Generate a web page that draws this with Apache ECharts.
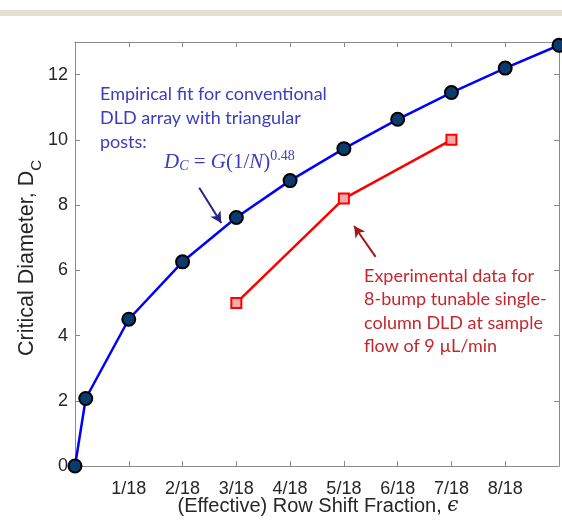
<!DOCTYPE html>
<html>
<head>
<meta charset="utf-8">
<script src="https://cdn.jsdelivr.net/npm/echarts@6/dist/echarts.min.js"></script>
<style>
  html, body { margin: 0; padding: 0; background: #fff; }
  #chart { width: 562px; height: 523px; }
</style>
</head>
<body>
<div id="chart"></div>
<script>
// Row shift fraction in units of 1/18
const fitX = [0, 0.2, 1, 2, 3, 4, 5, 6, 7, 8, 9];
// Empirical fit D_C = G (1/N)^0.48
const fitD = [0, 2.07, 4.5, 6.26, 7.62, 8.75, 9.73, 10.63, 11.45, 12.2, 12.9];
// Measured critical diameter, 8-bump tunable single-column DLD
const expX = [3, 5, 7];
const expD = [5.0, 8.2, 10.0];
// Axis ticks
const xTickLabels = ['1/18', '2/18', '3/18', '4/18', '5/18', '6/18', '7/18', '8/18'];
const yTicks = [0, 2, 4, 6, 8, 10, 12];

const chart = echarts.init(document.getElementById('chart'), null, { renderer: 'canvas' });

function axisLine() { return { show: true, onZero: false, lineStyle: { color: '#8a8a8a', width: 1 } }; }
function axisTick() { return { show: true, inside: true, length: 5, lineStyle: { color: '#8a8a8a', width: 1 } }; }

function pairs(xs, ys) { return xs.map((x, i) => [x, ys[i]]); }

const mathColor = '#3c3cc0';
const mathFont = '"Liberation Serif", "DejaVu Serif", serif';

const option = {
  animation: false,
  backgroundColor: '#ffffff',
  grid: { left: 75, right: 1, top: 42, bottom: 57, containLabel: false },
  xAxis: [
    {
      type: 'value', min: 0, max: 9, interval: 1, position: 'bottom',
      axisLine: axisLine(),
      axisTick: axisTick(),
      axisLabel: {
        margin: 14,
        fontFamily: 'Liberation Sans', fontSize: 18, color: '#262626',
        formatter: v => (v >= 1 && v <= 8) ? xTickLabels[v - 1] : ''
      },
      splitLine: { show: false }
    },
    {
      type: 'value', min: 0, max: 9, interval: 1, position: 'top',
      axisLine: axisLine(),
      axisTick: axisTick(),
      axisLabel: { show: false },
      splitLine: { show: false }
    }
  ],
  yAxis: [
    {
      type: 'value', min: 0, max: 13, interval: 2, position: 'left',
      axisLine: axisLine(),
      axisTick: axisTick(),
      axisLabel: {
        margin: 7,
        fontFamily: 'Liberation Sans', fontSize: 18, color: '#262626',
        formatter: v => yTicks.indexOf(v) >= 0 ? String(v) : ''
      },
      splitLine: { show: false }
    },
    {
      type: 'value', min: 0, max: 13, interval: 2, position: 'right',
      axisLine: axisLine(),
      axisTick: axisTick(),
      axisLabel: { show: false },
      splitLine: { show: false }
    }
  ],
  series: [
    {
      name: 'Empirical fit',
      type: 'line',
      data: pairs(fitX, fitD),
      clip: false,
      z: 3,
      lineStyle: { color: '#0000ff', width: 2.5 },
      symbol: 'circle',
      symbolSize: 13,
      itemStyle: { color: '#0b3b6e', borderColor: '#000000', borderWidth: 2 }
    },
    {
      name: 'Experimental',
      type: 'line',
      data: pairs(expX, expD),
      z: 3,
      lineStyle: { color: '#ff0000', width: 2.5 },
      symbol: 'rect',
      symbolSize: 10,
      itemStyle: { color: '#f6a9a9', borderColor: '#ff0000', borderWidth: 2 },
      markLine: {
        silent: true,
        symbol: ['none', 'arrow'],
        symbolSize: [9, 11],
        label: { show: false },
        data: [
          [
            { coord: [2.31, 8.53], lineStyle: { color: '#24248a', width: 2, type: 'solid' } },
            { coord: [2.72, 7.45] }
          ],
          [
            { coord: [5.59, 6.41], lineStyle: { color: '#a01818', width: 2, type: 'solid' } },
            { coord: [5.19, 7.36] }
          ]
        ]
      }
    }
  ],
  graphic: [
    { type: 'rect', shape: { x: 0, y: 10, width: 562, height: 6 }, style: { fill: '#e4e1d3' }, silent: true },
    {
      type: 'text', left: 100, top: 82,
      style: {
        text: 'Empirical fit for conventional\nDLD array with triangular\nposts:',
        font: '18px Lato, "Open Sans", sans-serif', fill: '#3c3cc0', lineHeight: 24
      }
    },
    {
      type: 'text', left: 164, top: 149,
      style: {
        text: '{i|D}{s|C}{n| = }{i|G}{n|(1/}{i|N}{n|)}{p|0.48}',
        fill: mathColor,
        rich: {
          i: { font: 'italic 21px ' + mathFont, fill: mathColor, verticalAlign: 'bottom', lineHeight: 24 },
          n: { font: '21px ' + mathFont, fill: mathColor, verticalAlign: 'bottom', lineHeight: 24 },
          s: { font: 'italic 14px ' + mathFont, fill: mathColor, verticalAlign: 'bottom', lineHeight: 20 },
          p: { font: '14px ' + mathFont, fill: mathColor, verticalAlign: 'top', lineHeight: 21 }
        }
      }
    },
    {
      type: 'text', left: 364, top: 264,
      style: {
        text: 'Experimental data for\n8-bump tunable single-\ncolumn DLD at sample\nflow of 9 \u00b5L/min',
        font: '18px Lato, "Open Sans", sans-serif', fill: '#c4272d', lineHeight: 23.5
      }
    },
    {
      type: 'text', x: 318, y: 506,
      style: {
        text: '(Effective) Row Shift Fraction, {e|\u03f5}',
        font: '20px "Liberation Sans", Arial, sans-serif', fill: '#262626',
        align: 'center', verticalAlign: 'middle',
        rich: { e: { font: 'italic 20px "DejaVu Serif", serif', fill: '#262626' } }
      }
    },
    {
      type: 'text', x: 27, y: 258, rotation: Math.PI / 2,
      style: {
        text: 'Critical Diameter, D{s|C}',
        font: '21.5px "Liberation Sans", Arial, sans-serif', fill: '#262626',
        align: 'center', verticalAlign: 'middle',
        rich: { s: { font: '15px "Liberation Sans", Arial, sans-serif', fill: '#262626', verticalAlign: 'bottom', lineHeight: 14, padding: [0, 0, -6, 0] } }
      }
    }
  ]
};

chart.setOption(option);
</script>
</body>
</html>
